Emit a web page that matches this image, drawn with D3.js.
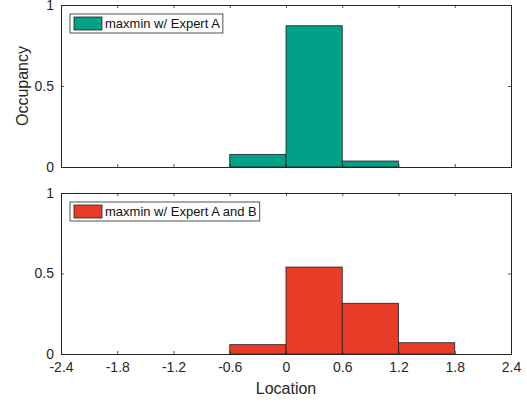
<!DOCTYPE html>
<html><head><meta charset="utf-8">
<script src="https://cdn.jsdelivr.net/npm/d3@7"></script>
<style>body{margin:0;background:#fff}svg{display:block}text{font-family:"Liberation Sans",Arial,sans-serif}</style>
</head><body>
<script>
const binEdges = [-0.6, 0, 0.6, 1.2, 1.8];
const expertA = [0.078, 0.872, 0.037, 0];
const expertAB = [0.058, 0.54, 0.315, 0.07];
const xTicks = [-2.4, -1.8, -1.2, -0.6, 0, 0.6, 1.2, 1.8, 2.4];
const yTicks = [0, 0.5, 1];
const legendA = "maxmin w/ Expert A";
const legendAB = "maxmin w/ Expert A and B";

const W = 527, H = 402;
const svg = d3.select("body").append("svg").attr("width", W).attr("height", H);
const x = d3.scaleLinear().domain([-2.4, 2.4]).range([61, 511]);
const axisColor = "#262626";
const fmt = d => String(d);

function panel(top, bottom, values, color, label, showX) {
  const y = d3.scaleLinear().domain([0, 1]).range([bottom, top]);
  const g = svg.append("g");
  const bins = values.map((v, i) => ({x0: binEdges[i], x1: binEdges[i + 1], v}));
  g.selectAll("rect.bar").data(bins.filter(d => d.v > 0)).enter().append("rect")
    .attr("x", d => x(d.x0)).attr("width", d => x(d.x1) - x(d.x0))
    .attr("y", d => y(d.v)).attr("height", d => y(0) - y(d.v))
    .attr("fill", color).attr("stroke", "#222").attr("stroke-width", 0.8);
  const ax = d3.axisBottom(x).tickValues(xTicks).tickSize(-3).tickPadding(8)
    .tickFormat(showX ? fmt : () => "");
  const gx = g.append("g").attr("transform", `translate(0,${bottom})`).call(ax);
  const axT = d3.axisTop(x).tickValues(xTicks).tickSize(-3).tickFormat(() => "");
  const gxt = g.append("g").attr("transform", `translate(0,${top})`).call(axT);
  const ay = d3.axisLeft(y).tickValues(yTicks).tickSize(-3).tickPadding(7).tickFormat(fmt);
  const gy = g.append("g").attr("transform", `translate(61,0)`).call(ay);
  const ayr = d3.axisRight(y).tickValues(yTicks).tickSize(-3).tickFormat(() => "");
  const gyr = g.append("g").attr("transform", `translate(511,0)`).call(ayr);
  [gx, gxt, gy, gyr].forEach(a => {
    a.select(".domain").attr("stroke", axisColor).attr("stroke-width", 1);
    a.selectAll(".tick line").attr("stroke", axisColor).attr("stroke-width", 0.8);
    a.selectAll("text").attr("fill", axisColor).attr("font-size", 14).attr("font-family", null);
  });
  const lg = g.append("g");
  const lx = 70, ly = top + 9;
  const tx = lg.append("text").attr("x", lx + 35).attr("y", ly + 9.5).attr("dy", "0.35em")
    .attr("font-size", 13).attr("fill", "#111").text(label);
  const tw = tx.node().getComputedTextLength();
  lg.insert("rect", "text").attr("x", lx).attr("y", ly).attr("width", tw + 38).attr("height", 19)
    .attr("fill", "#fff").attr("stroke", "#262626").attr("stroke-width", 0.8);
  lg.append("rect").attr("x", lx + 4).attr("y", ly + 3).attr("width", 28).attr("height", 13)
    .attr("fill", color).attr("stroke", "#222").attr("stroke-width", 0.8);
}

panel(5, 167, expertA, "#00a187", legendA, false);
panel(193, 354, expertAB, "#e93c28", legendAB, true);

svg.append("text").attr("x", 286).attr("y", 394).attr("text-anchor", "middle")
  .attr("font-size", 16).attr("fill", axisColor).text("Location");
svg.append("text").attr("transform", "translate(28,86) rotate(-90)").attr("text-anchor", "middle")
  .attr("font-size", 16).attr("fill", axisColor).text("Occupancy");
</script>
</body></html>
